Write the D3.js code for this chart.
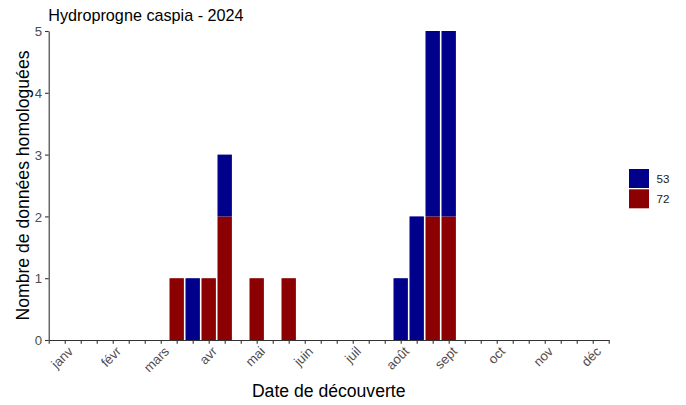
<!DOCTYPE html>
<html><head><meta charset="utf-8">
<script src="https://cdn.jsdelivr.net/npm/d3@7"></script>
<style>body{margin:0;background:#fff}svg{display:block}text{font-family:"Liberation Sans",Arial,sans-serif}</style>
</head><body>
<svg id="c" width="686" height="405"></svg>
<script>
// Dekad of year (1..36) for each bar
const periodes = [9, 10, 11, 12, 14, 16, 23, 24, 25, 26];
const dep53 = [0, 1, 0, 1, 0, 0, 1, 2, 3, 3];
const dep72 = [1, 0, 1, 2, 1, 1, 0, 0, 2, 2];
const series = ["72", "53"]; // stacking order (bottom first)
const legendOrder = ["53", "72"];
const colors = {"53": "#00008B", "72": "#8B0000"};
const moisLabels = ["janv","févr","mars","avr","mai","juin","juil","août","sept","oct","nov","déc"];
const yTicks = [0, 1, 2, 3, 4, 5];
const titre = "Hydroprogne caspia - 2024";

const svg = d3.select("#c");
const L = 48.7, R = 608.7, T = 31, B = 340;
const x = d3.scaleLinear().domain([1, 36]).range([L, R]);
const y = d3.scaleLinear().domain([0, 5]).range([B, T]);
const unit = x(2) - x(1);

const rows = periodes.map((p, i) => ({p, "53": dep53[i], "72": dep72[i]}));
const stack = d3.stack().keys(series)(rows);

const g = svg.append("g");
stack.forEach(layer => {
  g.selectAll(null).data(layer.filter(d => d[1] > d[0])).enter().append("rect")
    .attr("x", d => x(d.data.p) - unit * 0.45)
    .attr("width", unit * 0.9)
    .attr("y", d => y(d[1]))
    .attr("height", d => y(d[0]) - y(d[1]))
    .attr("fill", colors[layer.key]);
});

// axes
const tickCol = "#333333";
const labCol = "#4d4d4d";
const xAxis = svg.append("g").attr("transform", `translate(0,${B})`)
  .call(d3.axisBottom(x).tickValues(d3.range(1, 37)).tickSize(3.7).tickSizeOuter(0).tickFormat(""));
xAxis.select(".domain").attr("stroke", tickCol).attr("stroke-width", 1.1);
xAxis.selectAll(".tick line").attr("stroke", tickCol).attr("stroke-width", 1.1);

const yAxis = svg.append("g").attr("transform", `translate(${L},0)`)
  .call(d3.axisLeft(y).tickValues(yTicks).tickFormat(d3.format("d")).tickSize(3.7).tickSizeOuter(0).tickPadding(3));
yAxis.select(".domain").attr("stroke", tickCol).attr("stroke-width", 1.1);
yAxis.selectAll(".tick line").attr("stroke", tickCol).attr("stroke-width", 1.1);
yAxis.selectAll(".tick text").attr("fill", labCol).attr("font-size", "13.2px")
  .attr("font-family", "Liberation Sans, Arial, sans-serif").attr("dy", "0.35em");

// month labels on the middle dekad of each month
svg.append("g").selectAll("text").data(moisLabels).enter().append("text")
  .attr("transform", (d, i) => `translate(${x(2 + 3 * i) + 2.5},${B + 5.5}) rotate(-45)`)
  .attr("text-anchor", "end").attr("dy", "0.72em")
  .attr("fill", labCol).attr("font-size", "13.2px").text(d => d);

// titles
svg.append("text").attr("x", 48.3).attr("y", 21).attr("font-size", "16.2px").attr("fill", "#000").text(titre);
svg.append("text").attr("x", (L + R) / 2).attr("y", 396.5).attr("text-anchor", "middle")
  .attr("font-size", "17.6px").attr("fill", "#000").text("Date de découverte");
svg.append("text").attr("transform", `translate(29.3,${(T + B) / 2}) rotate(-90)`).attr("text-anchor", "middle")
  .attr("font-size", "17.6px").attr("fill", "#000").text("Nombre de données homologuées");

// legend
const lg = svg.append("g").attr("transform", "translate(629,169)");
legendOrder.forEach((k, i) => {
  lg.append("rect").attr("x", 0).attr("y", i * 20.3).attr("width", 20).attr("height", 19).attr("fill", colors[k]);
  lg.append("text").attr("x", 27.5).attr("y", i * 20.3 + 9.5).attr("dy", "0.35em")
    .attr("font-size", "11.6px").attr("fill", "#1a1a1a").text(k);
});
</script>
</body></html>
